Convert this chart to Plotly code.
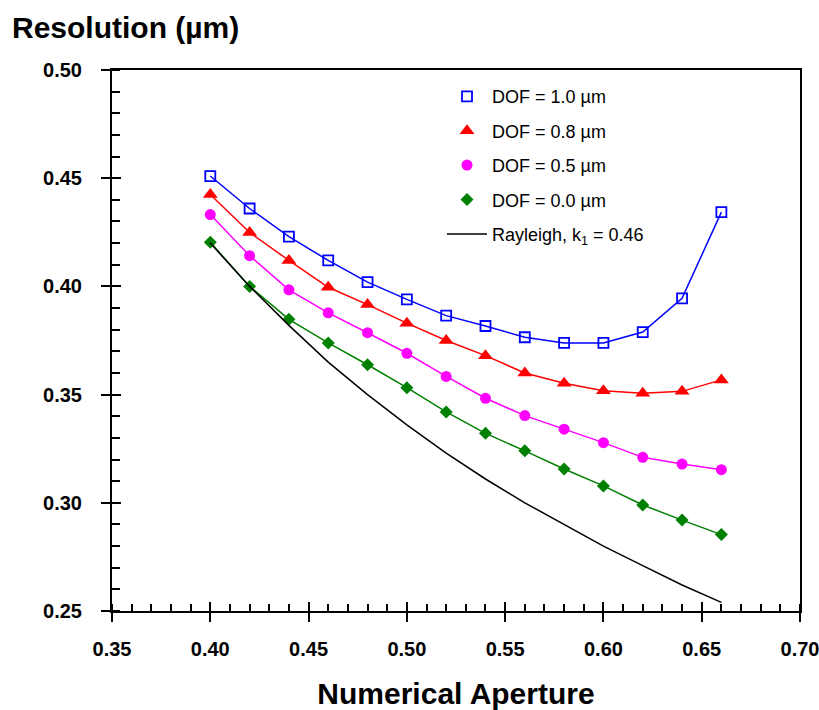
import plotly.graph_objects as go

na = [0.40, 0.42, 0.44, 0.46, 0.48, 0.50, 0.52, 0.54, 0.56, 0.58, 0.60, 0.62, 0.64, 0.66]
dof_10 = [0.451, 0.436, 0.423, 0.412, 0.402, 0.394, 0.3865, 0.3817, 0.3765, 0.3739, 0.3739, 0.3789, 0.3945, 0.4343]
dof_08 = [0.4425, 0.4249, 0.412, 0.3996, 0.3916, 0.383, 0.375, 0.368, 0.360, 0.3552, 0.3518, 0.3506, 0.3515, 0.3568]
dof_05 = [0.4332, 0.4142, 0.3984, 0.3878, 0.3786, 0.3691, 0.3584, 0.3483, 0.3403, 0.334, 0.3278, 0.321, 0.3179, 0.3153]
dof_00 = [0.4204, 0.400, 0.3848, 0.3739, 0.3638, 0.3532, 0.342, 0.3321, 0.324, 0.3156, 0.3078, 0.299, 0.292, 0.2853]
rayleigh = [0.420, 0.400, 0.382, 0.365, 0.350, 0.336, 0.323, 0.311, 0.300, 0.290, 0.280, 0.271, 0.262, 0.254]

names = ["DOF = 1.0 \u00b5m", "DOF = 0.8 \u00b5m", "DOF = 0.5 \u00b5m", "DOF = 0.0 \u00b5m",
         "Rayleigh, k<sub>1</sub> = 0.46"]

FONT = "Arial, Liberation Sans, sans-serif"

fig = go.Figure()
series = [
    (dof_10, "#0000FF", dict(symbol="square-open", size=10, color="#0000FF", line=dict(width=1.8, color="#0000FF"))),
    (dof_08, "#FF0000", dict(symbol="triangle-up", size=13, color="#FF0000")),
    (dof_05, "#FF00FF", dict(symbol="circle", size=11, color="#FF00FF")),
    (dof_00, "#008000", dict(symbol="diamond", size=10, color="#008000")),
]
for i, (vals, col, mk) in enumerate(series):
    fig.add_trace(go.Scatter(x=na, y=vals, mode="lines+markers", name=names[i],
                             line=dict(color=col, width=1.5), marker=mk,
                             legendgroup=f"g{i}", showlegend=False))
    # legend entry: marker only
    fig.add_trace(go.Scatter(x=[None], y=[None], mode="markers", name=names[i],
                             marker=mk, legendgroup=f"g{i}", showlegend=True, hoverinfo="skip"))
fig.add_trace(go.Scatter(x=na, y=rayleigh, mode="lines", name=names[4],
                         line=dict(color="black", width=1.5), legendgroup="g4"))
# helper overlay axes for the inner part of major ticks
fig.add_trace(go.Scatter(x=[None], y=[None], xaxis="x2", yaxis="y2", mode="markers",
                         showlegend=False, hoverinfo="skip"))

axis_common = dict(showgrid=False, zeroline=False, color="black", linecolor="black", automargin=False)
fig.update_layout(
    width=819, height=710,
    margin=dict(l=112, r=19, t=70, b=99, autoexpand=False),
    paper_bgcolor="white", plot_bgcolor="white",
    font=dict(family=FONT, color="black"),
    title=dict(text="<b>Resolution (\u00b5m)</b>", x=12/819, xanchor="left", xref="container",
               y=1-27/710, yanchor="middle", yref="container",
               font=dict(size=30, family=FONT, color="black")),
    xaxis=dict(range=[0.35, 0.70], dtick=0.05, tick0=0.35, tickformat=".2f",
               showline=True, linewidth=2, mirror=True,
               ticks="outside", ticklen=9, tickwidth=1.5, tickcolor="black",
               minor=dict(ticks="inside", ticklen=7, dtick=0.01, tickwidth=1.5, tickcolor="black"),
               tickfont=dict(size=20, family=FONT, color="black", weight="bold"),
               ticklabelstandoff=10, ticklabeloverflow="allow",
               title=dict(text="<b>Numerical Aperture</b>", standoff=26,
                          font=dict(size=30, family=FONT, color="black")),
               **axis_common),
    yaxis=dict(range=[0.25, 0.50], dtick=0.05, tick0=0.25, tickformat=".2f",
               showline=True, linewidth=2, mirror=True,
               ticks="outside", ticklen=9, tickwidth=1.5, tickcolor="black",
               minor=dict(ticks="inside", ticklen=8, dtick=0.01, tickwidth=1.5, tickcolor="black"),
               tickfont=dict(size=20, family=FONT, color="black", weight="bold"),
               ticklabelstandoff=15, ticklabeloverflow="allow",
               **axis_common),
    xaxis2=dict(range=[0.35, 0.70], dtick=0.05, tick0=0.35, overlaying="x", anchor="y2",
                side="bottom", ticks="inside", ticklen=9, tickwidth=1.5, tickcolor="black",
                showticklabels=False, showline=False, showgrid=False, zeroline=False, automargin=False),
    yaxis2=dict(range=[0.25, 0.50], dtick=0.05, tick0=0.25, overlaying="y", anchor="x2",
                side="left", ticks="inside", ticklen=9, tickwidth=1.5, tickcolor="black",
                showticklabels=False, showline=False, showgrid=False, zeroline=False, automargin=False),
    legend=dict(x=(442-112)/688, y=0.985, xanchor="left", yanchor="top",
                bgcolor="rgba(0,0,0,0)", borderwidth=0,
                font=dict(size=18, family=FONT, color="black"),
                traceorder="grouped", tracegroupgap=8, itemwidth=40),
    showlegend=True,
)

fig.write_html("out.html")
